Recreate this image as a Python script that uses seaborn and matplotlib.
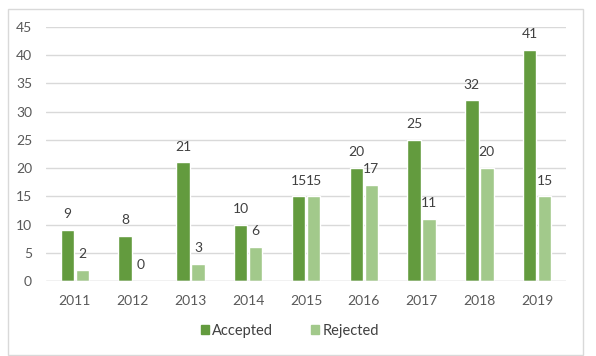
import matplotlib
matplotlib.use("Agg")
import matplotlib.pyplot as plt
from matplotlib.patches import Rectangle
import pandas as pd
import seaborn as sns

years = ['2011', '2012', '2013', '2014', '2015', '2016', '2017', '2018', '2019']
accepted = [9, 8, 21, 10, 15, 20, 25, 32, 41]
rejected = [2, 0, 3, 6, 15, 17, 11, 20, 15]
series = ['Accepted', 'Rejected']
colors = ['#639B3E', '#A2C98B']

df = pd.DataFrame({
    'year': years * 2,
    'value': accepted + rejected,
    'status': [series[0]] * len(years) + [series[1]] * len(years),
})

sns.set_style('white')
plt.rcParams['font.family'] = ['Lato', 'DejaVu Sans']

fig = plt.figure(figsize=(5.96, 3.56), dpi=100)
ax = fig.add_axes([46 / 596, 75 / 356, 520 / 596, 254 / 356])

sns.barplot(data=df, x='year', y='value', hue='status', palette=colors,
            width=0.52, gap=0.11, ax=ax, legend=False, saturation=1)

ax.set_ylim(0, 45)
ax.set_yticks(range(0, 46, 5))
ax.set_xlim(-0.5, len(years) - 0.5)
ax.yaxis.grid(True, color='#D9D9D9', linewidth=1)
ax.set_axisbelow(True)
for s in ax.spines.values():
    s.set_visible(False)
ax.axhline(0, color='#D9D9D9', linewidth=1, zorder=1)
ax.set_xlabel('')
ax.set_ylabel('')
ax.tick_params(axis='both', length=0, labelsize=10, colors='#595959')
ax.tick_params(axis='y', pad=10)
ax.tick_params(axis='x', pad=10)

for cont in ax.containers:
    for bar in cont:
        h = bar.get_height()
        ax.annotate(f'{int(h)}', (bar.get_x() + bar.get_width() / 2, h),
                    xytext=(0, 7), textcoords='offset points',
                    ha='center', va='bottom', fontsize=10, color='#404040')

handles = [Rectangle((0, 0), 1, 1, color=c) for c in colors]
fig.legend(handles, series, loc='center', bbox_to_anchor=(290 / 596, 1 - 331 / 356),
           ncol=2, frameon=False, fontsize=10.5, handlelength=0.55, handleheight=0.55,
           handletextpad=0.25, columnspacing=2.6, labelcolor='#404040')

fig.patches.append(Rectangle((8 / 596, 1 / 356), 575 / 596, 346 / 356,
                             transform=fig.transFigure, fill=False,
                             edgecolor='#D9D9D9', linewidth=1))

fig.savefig('out.png', dpi=100)
